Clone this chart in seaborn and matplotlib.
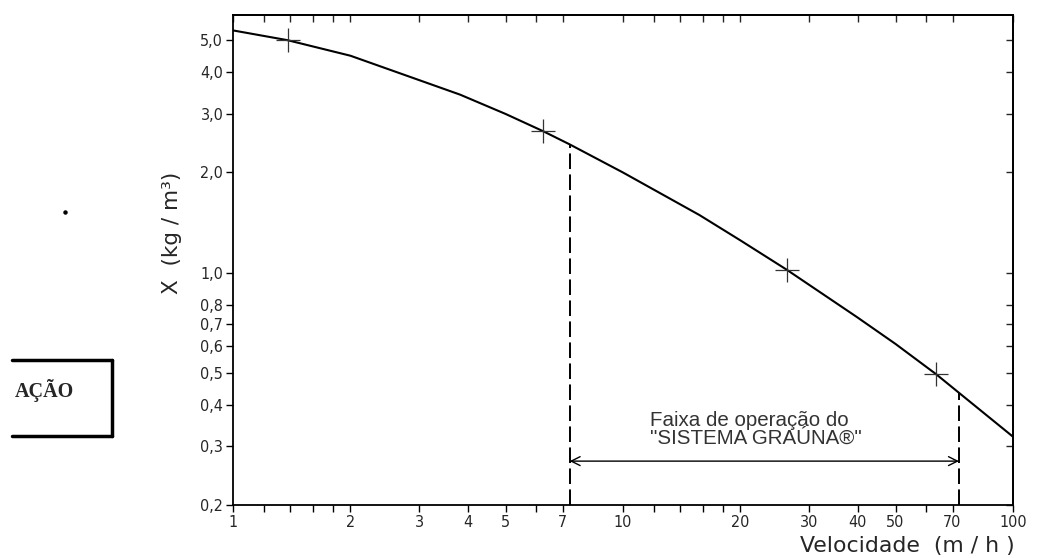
import matplotlib
matplotlib.use("Agg")
import matplotlib.pyplot as plt
import seaborn as sns
import pandas as pd
from matplotlib.ticker import FixedLocator, FixedFormatter, NullFormatter, NullLocator
from matplotlib.lines import Line2D

# Concentration curve X (kg/m3) versus upflow velocity (m/h)
velocity = [1.0, 1.38, 2.0, 3.82, 5.0, 6.25, 7.3, 10.0, 15.7, 20.0, 26.3, 39.8, 50.0, 63.5, 72.7, 100.0]
concentration = [5.35, 5.0, 4.49, 3.43, 3.0, 2.66, 2.43, 2.0, 1.49, 1.25, 1.02, 0.735, 0.61, 0.495, 0.435, 0.321]

# Measured points marked with crosses
mark_velocity = [1.38, 6.25, 26.3, 63.5]
mark_concentration = [5.0, 2.66, 1.02, 0.495]

# Operating range of the system
range_velocity = [7.3, 72.7]
range_concentration = [2.43, 0.435]
arrow_level = 0.271

x_major = [1, 2, 3, 4, 5, 7, 10, 20, 30, 40, 50, 70, 100]
x_labels = ["1", "2", "3", "4", "5", "7", "10", "20", "30", "40", "50", "70", "100"]
x_minor = [1.2, 1.4, 1.6, 1.8, 6, 12, 14, 16, 18, 60]
y_major = [0.2, 0.3, 0.4, 0.5, 0.6, 0.7, 0.8, 1.0, 2.0, 3.0, 4.0, 5.0]
y_labels = ["0,2", "0,3", "0,4", "0,5", "0,6", "0,7", "0,8", "1,0", "2,0", "3,0", "4,0", "5,0"]

sns.set_style("ticks")

fig = plt.figure(figsize=(10.37, 5.58), dpi=100)
ax = fig.add_axes([0.2247, 0.095, 0.7521, 0.878])

curve = pd.DataFrame({"velocidade": velocity, "x": concentration})
sns.lineplot(data=curve, x="velocidade", y="x", color="black", lw=1.5, ax=ax)
sns.scatterplot(x=mark_velocity, y=mark_concentration, marker="+", s=300,
                color="#333333", linewidth=0.9, ax=ax, zorder=3)

ax.set_xscale("log")
ax.set_yscale("log")
ax.set_xlim(1, 100)
ax.set_ylim(0.2, 5.95)

# Dashed limits of the operating range
for v, c in zip(range_velocity, range_concentration):
    ax.plot([v, v], [0.2, c], color="black", lw=1.4, ls=(0, (8, 2.8)))

ax.annotate("", xy=(range_velocity[0], arrow_level), xytext=(range_velocity[1], arrow_level),
            arrowprops=dict(arrowstyle="<->", lw=1.0, color="black",
                            shrinkA=0, shrinkB=0, mutation_scale=16))
note_font = ["Liberation Sans", "DejaVu Sans"]
ax.text(11.7, 0.358, "Faixa de operação do", fontsize=14.8, color="#333333",
        family=note_font, va="center", ha="left")
ax.text(11.7, 0.318, "\"SISTEMA GRAÚNA®\"", fontsize=14.8, color="#333333",
        family=note_font, va="center", ha="left")

# Ticks: outward on bottom/left, inward on top/right
ax.xaxis.set_major_locator(FixedLocator(x_major))
ax.xaxis.set_major_formatter(FixedFormatter(x_labels))
ax.xaxis.set_minor_locator(FixedLocator(x_minor))
ax.xaxis.set_minor_formatter(NullFormatter())
ax.yaxis.set_major_locator(FixedLocator(y_major))
ax.yaxis.set_major_formatter(FixedFormatter(y_labels))
ax.yaxis.set_minor_locator(NullLocator())
ax.tick_params(which="both", direction="out", length=5, width=1.0, color="black")
ax.tick_params(axis="x", pad=2)
ax.tick_params(axis="y", pad=2)
for lab in ax.get_xticklabels() + ax.get_yticklabels():
    lab.set_family(["DejaVu Sans"])
    lab.set_fontstretch("condensed")
    lab.set_fontsize(11.5)

top = ax.secondary_xaxis("top")
top.xaxis.set_major_locator(FixedLocator(x_major))
top.xaxis.set_minor_locator(FixedLocator(x_minor))
top.xaxis.set_major_formatter(NullFormatter())
top.xaxis.set_minor_formatter(NullFormatter())
top.tick_params(which="both", direction="in", length=5, width=1.0)
right = ax.secondary_yaxis("right")
right.yaxis.set_major_locator(FixedLocator(y_major))
right.yaxis.set_minor_locator(NullLocator())
right.yaxis.set_major_formatter(NullFormatter())
right.tick_params(which="both", direction="in", length=5, width=1.0)

for sp in list(ax.spines.values()) + [top.spines["top"], right.spines["right"]]:
    sp.set_linewidth(1.3)
    sp.set_color("black")

ax.set_xlabel("")
ax.set_ylabel("X  (kg / m³)", fontsize=15.5, family=["DejaVu Sans"])
ax.yaxis.set_label_coords(-0.066, 0.555)
fig.text(0.979, 0.004, "Velocidade  (m / h )", fontsize=15.8, ha="right", va="bottom",
         family=["DejaVu Sans"])

# Boxed caption fragment at the left margin
y_top, y_bot = 1 - 360 / 558, 1 - 436 / 558
fig.add_artist(Line2D([0.012, 0.108], [y_top, y_top], color="black", lw=2.5))
fig.add_artist(Line2D([0.012, 0.108], [y_bot, y_bot], color="black", lw=2.5))
fig.add_artist(Line2D([0.108, 0.108], [y_top, y_bot], color="black", lw=2.5))
fig.text(0.014, 1 - 390 / 558, "AÇÃO", fontsize=14.5, fontweight="bold",
         family=["Liberation Serif", "DejaVu Serif"], va="center", ha="left")
fig.add_artist(Line2D([0.0627], [1 - 212 / 558], marker="o", markersize=2.2, color="black", lw=0))

fig.savefig("out.png", dpi=100)
